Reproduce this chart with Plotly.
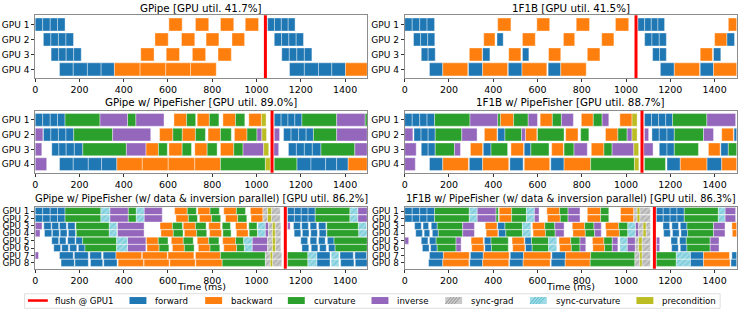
import plotly.graph_objects as go

W, H = 747, 312
FONT = "DejaVu Sans"

KIND_ORDER = ["F", "B", "C", "I", "SG", "SC", "P"]
KIND_NAMES = {"F": "forward", "B": "backward", "C": "curvature", "I": "inverse",
              "SG": "sync-grad", "SC": "sync-curvature", "P": "precondition"}
FILL = {"F": "#1f77b4", "B": "#ff7f0e", "C": "#2ca02c", "I": "#9467bd",
        "SG": "#c9c9c9", "SC": "#9edae5", "P": "#bcbd22"}
HATCH_FG = {"SG": "#8c8c8c", "SC": "#46b8c8"}

TITLES = [
    "GPipe [GPU util. 41.7%]",
    "1F1B [GPU util. 41.5%]",
    "GPipe w/ PipeFisher [GPU util. 89.0%]",
    "1F1B w/ PipeFisher [GPU util. 88.7%]",
    "GPipe w/ PipeFisher (w/ data & inversion parallel) [GPU util. 86.2%]",
    "1F1B w/ PipeFisher (w/ data & inversion parallel) [GPU util. 86.3%]",
]
FLUSH_MS = [1040, 1045, 1070, 1072, 1130, 1128]
X_TICKS = [0, 200, 400, 600, 800, 1000, 1200, 1400]
X_MAX = 1500

# Each tuple: (kind, t0, t1, t2, ...) -> consecutive blocks [t0,t1], [t1,t2], ...
GPIPE = [
    [("F", 0, 34, 68, 101, 135), ("B", 604, 664), ("B", 724, 784), ("B", 837, 897), ("B", 949, 1009),
     ("F", 1050, 1081, 1112, 1143, 1174)],
    [("F", 37, 71, 105, 139, 173), ("B", 541, 601), ("B", 661, 721), ("B", 772, 830), ("B", 889, 946),
     ("F", 1080, 1113, 1146, 1179, 1212)],
    [("F", 72, 106, 140, 174, 208), ("B", 477, 537), ("B", 592, 652), ("B", 710, 770), ("B", 826, 886),
     ("F", 1114, 1148, 1182, 1216, 1250)],
    [("F", 110, 172, 236, 298, 358), ("B", 358, 474, 590, 702, 818),
     ("F", 1149, 1216, 1280, 1340, 1402), ("B", 1402, 1500)],
]

ONEF1B = [
    [("F", 0, 34, 68, 101, 135), ("B", 420, 480), ("B", 597, 655), ("B", 775, 835), ("B", 952, 1012),
     ("F", 1054, 1084, 1114, 1144, 1174), ("B", 1462, 1500)],
    [("F", 40, 72, 104, 136), ("B", 357, 408), ("F", 417, 445), ("B", 532, 590), ("B", 717, 768),
     ("B", 890, 945), ("F", 1084, 1117, 1150, 1182), ("B", 1400, 1455), ("F", 1455, 1490)],
    [("F", 75, 106, 138), ("B", 292, 350), ("F", 352, 385), ("B", 470, 525), ("F", 532, 561),
     ("B", 650, 705), ("B", 825, 882), ("F", 1120, 1151, 1182), ("B", 1335, 1390), ("F", 1395, 1428)],
    [("F", 112, 172), ("B", 172, 285), ("F", 288, 352), ("B", 352, 465), ("F", 468, 530), ("B", 530, 642),
     ("F", 648, 705), ("B", 705, 820), ("F", 1155, 1218), ("B", 1218, 1332), ("F", 1335, 1395),
     ("B", 1395, 1500)],
]

GPIPE_PF = [
    [("F", 0, 34, 68, 101, 135), ("C", 135, 293), ("I", 293, 417), ("C", 417, 455), ("I", 455, 582),
     ("B", 627, 684), ("C", 684, 725), ("B", 732, 787), ("C", 787, 830), ("B", 848, 905), ("C", 905, 947),
     ("B", 965, 1022), ("P", 1022, 1043),
     ("F", 1080, 1111, 1142, 1173, 1205), ("C", 1205, 1362), ("I", 1362, 1490), ("C", 1490, 1500)],
    [("I", 0, 35), ("F", 37, 71, 105, 139, 174), ("C", 174, 350), ("I", 350, 522),
     ("B", 562, 622), ("C", 622, 664), ("B", 664, 724), ("C", 724, 769), ("B", 781, 837), ("C", 837, 886),
     ("B", 900, 957), ("C", 957, 1002), ("I", 1002, 1024), ("P", 1024, 1045),
     ("I", 1080, 1104), ("F", 1122, 1156, 1190, 1224, 1257), ("C", 1257, 1362), ("I", 1362, 1500)],
    [("I", 0, 30), ("F", 75, 107, 140, 177, 215), ("C", 215, 412), ("I", 412, 500),
     ("B", 500, 557), ("C", 557, 597), ("B", 604, 664), ("C", 664, 706), ("B", 721, 777), ("C", 777, 822),
     ("B", 837, 897), ("C", 897, 939), ("I", 939, 1032), ("P", 1032, 1055),
     ("I", 1078, 1100), ("F", 1144, 1180, 1216, 1252, 1291), ("C", 1291, 1444), ("I", 1444, 1500)],
    [("I", 0, 52), ("F", 110, 172, 240, 300, 369), ("B", 369, 484, 601, 721, 837), ("C", 837, 1040),
     ("P", 1040, 1062),
     ("C", 1080, 1182), ("F", 1182, 1246, 1312, 1362, 1414), ("B", 1414, 1500)],
]

ONEF1B_PF = [
    [("F", 0, 34, 68, 101, 135), ("C", 135, 295), ("I", 295, 420), ("C", 420, 432), ("B", 432, 492),
     ("C", 492, 558), ("I", 558, 600), ("B", 612, 667), ("C", 667, 708), ("I", 708, 762), ("B", 798, 852),
     ("C", 852, 892), ("I", 892, 922), ("B", 972, 1027), ("P", 1027, 1050),
     ("F", 1083, 1115, 1147, 1179, 1210), ("C", 1210, 1365), ("I", 1365, 1495)],
    [("I", 0, 37), ("F", 42, 74, 106, 138), ("C", 138, 258), ("I", 258, 327), ("B", 360, 417),
     ("F", 420, 453), ("C", 453, 528), ("I", 528, 545), ("B", 545, 597), ("C", 600, 720), ("B", 727, 783),
     ("C", 795, 832), ("B", 907, 963), ("C", 963, 1005), ("I", 1005, 1027), ("P", 1027, 1050),
     ("I", 1083, 1102), ("F", 1117, 1150, 1185, 1218), ("C", 1218, 1350), ("I", 1350, 1395),
     ("B", 1432, 1485), ("F", 1488, 1500)],
    [("I", 0, 52), ("F", 75, 106, 138), ("C", 138, 225), ("I", 225, 252), ("B", 297, 352), ("F", 355, 390),
     ("C", 390, 465), ("B", 480, 537), ("F", 540, 570), ("C", 570, 652), ("B", 664, 717), ("C", 720, 765),
     ("I", 765, 825), ("B", 843, 900), ("C", 900, 937), ("I", 937, 1035), ("P", 1035, 1057),
     ("I", 1080, 1122), ("F", 1150, 1185, 1218), ("C", 1218, 1327), ("B", 1372, 1425), ("F", 1428, 1462),
     ("C", 1462, 1500)],
    [("I", 0, 48), ("F", 112, 172), ("B", 172, 288), ("F", 292, 352), ("B", 352, 470), ("F", 475, 535),
     ("B", 540, 655), ("F", 660, 720), ("B", 720, 840), ("C", 840, 1038), ("P", 1038, 1058),
     ("C", 1083, 1178), ("F", 1185, 1245), ("B", 1245, 1365), ("F", 1365, 1432), ("B", 1432, 1500)],
]

GPIPE_PF_DP = [
    [("F", 0, 34, 68, 101, 135), ("C", 135, 297), ("SC", 297, 337), ("I", 337, 420), ("C", 420, 457),
     ("SC", 457, 492), ("I", 492, 574), ("B", 630, 687), ("C", 687, 728), ("B", 735, 790), ("C", 790, 832),
     ("B", 852, 909), ("C", 909, 950), ("B", 972, 1029), ("SG", 1029, 1050), ("P", 1050, 1067),
     ("SG", 1067, 1107),
     ("F", 1140, 1171, 1202, 1233, 1265), ("C", 1265, 1422), ("SC", 1422, 1457), ("I", 1457, 1500)],
    [("F", 0, 34, 68, 101, 135), ("C", 135, 297), ("SC", 297, 337), ("I", 337, 420), ("C", 420, 457),
     ("SC", 457, 492), ("I", 492, 574), ("B", 636, 692), ("C", 692, 733), ("B", 742, 797), ("C", 797, 838),
     ("B", 860, 915), ("C", 915, 956), ("B", 975, 1029), ("SG", 1029, 1050), ("P", 1050, 1067),
     ("SG", 1067, 1107),
     ("F", 1140, 1171, 1202, 1233, 1265), ("C", 1265, 1422), ("SC", 1422, 1457), ("I", 1457, 1500)],
    [("I", 0, 31), ("F", 39, 72), ("F", 75, 106), ("F", 110, 141), ("F", 147, 180), ("C", 184, 335),
     ("SC", 335, 369), ("I", 372, 492), ("B", 564, 620), ("C", 620, 665), ("B", 669, 724), ("C", 724, 772),
     ("B", 784, 837), ("C", 845, 882), ("B", 905, 957), ("C", 965, 1002), ("SC", 1006, 1039),
     ("I", 1039, 1054), ("SG", 1054, 1072), ("P", 1072, 1084), ("SG", 1084, 1110),
     ("I", 1140, 1152), ("F", 1167, 1198), ("F", 1204, 1234), ("F", 1242, 1272), ("F", 1280, 1313),
     ("C", 1317, 1460), ("SC", 1460, 1497)],
    [("I", 0, 22), ("F", 42, 75), ("F", 78, 109), ("F", 113, 144), ("F", 150, 182), ("C", 186, 335),
     ("SC", 335, 369), ("I", 372, 492), ("B", 568, 624), ("C", 624, 668), ("B", 674, 729), ("C", 729, 775),
     ("B", 788, 842), ("C", 848, 885), ("B", 909, 962), ("C", 967, 1004), ("SC", 1006, 1039),
     ("I", 1039, 1054), ("SG", 1054, 1072), ("P", 1072, 1084), ("SG", 1084, 1110),
     ("F", 1170, 1200), ("F", 1207, 1237), ("F", 1245, 1275), ("F", 1283, 1315), ("C", 1318, 1462),
     ("SC", 1462, 1500)],
    [("F", 75, 106), ("F", 110, 139), ("F", 147, 180), ("F", 184, 214), ("C", 214, 368), ("SC", 368, 417),
     ("I", 417, 500), ("B", 502, 556), ("C", 556, 600), ("B", 615, 669), ("C", 669, 714), ("B", 732, 784),
     ("C", 784, 830), ("B", 847, 905), ("C", 905, 942), ("SC", 942, 980), ("I", 980, 1050),
     ("SG", 1050, 1072), ("P", 1072, 1085), ("SG", 1085, 1110),
     ("F", 1200, 1231), ("F", 1242, 1272), ("F", 1280, 1310), ("F", 1320, 1350), ("C", 1350, 1500)],
    [("F", 84, 115), ("F", 120, 150), ("F", 156, 188), ("F", 195, 225), ("C", 225, 368), ("SC", 368, 417),
     ("I", 417, 500), ("B", 505, 560), ("C", 560, 604), ("B", 620, 674), ("C", 674, 718), ("B", 737, 790),
     ("C", 790, 834), ("B", 852, 910), ("C", 910, 945), ("SC", 945, 980), ("I", 980, 1050),
     ("SG", 1050, 1072), ("P", 1072, 1085), ("SG", 1085, 1110),
     ("F", 1205, 1236), ("F", 1247, 1277), ("F", 1285, 1315), ("F", 1325, 1355), ("C", 1355, 1500)],
    [("I", 0, 15), ("F", 110, 172), ("F", 177, 240), ("F", 247, 300), ("F", 307, 365),
     ("B", 365, 481), ("B", 484, 597), ("B", 600, 717), ("B", 724, 837), ("C", 837, 1040),
     ("SG", 1040, 1062), ("P", 1062, 1072), ("SG", 1072, 1114),
     ("C", 1140, 1232), ("SC", 1232, 1272), ("F", 1272, 1332), ("SC", 1337, 1372), ("F", 1377, 1437),
     ("F", 1444, 1497)],
    [("F", 117, 177), ("F", 180, 240), ("F", 250, 305), ("F", 310, 370),
     ("B", 375, 490), ("B", 492, 605), ("B", 608, 723), ("B", 726, 845), ("C", 845, 1040),
     ("SG", 1040, 1062), ("P", 1062, 1072), ("SG", 1072, 1114),
     ("C", 1140, 1232), ("SC", 1232, 1272), ("F", 1272, 1332), ("SC", 1337, 1372), ("F", 1380, 1440),
     ("F", 1446, 1500)],
]

ONEF1B_PF_DP = [
    [("F", 0, 34, 68, 101, 135), ("C", 135, 292), ("SC", 292, 327), ("I", 327, 412), ("C", 412, 423),
     ("B", 427, 483), ("C", 483, 550), ("SC", 550, 585), ("I", 585, 607), ("B", 642, 700), ("C", 700, 738),
     ("I", 738, 792), ("B", 825, 885), ("C", 885, 922), ("B", 975, 1035), ("SG", 1035, 1050),
     ("P", 1050, 1062), ("SG", 1062, 1110),
     ("F", 1137, 1168, 1199, 1230, 1263), ("C", 1263, 1417), ("SC", 1417, 1447), ("I", 1447, 1495)],
    [("F", 0, 34, 68, 101, 135), ("C", 135, 292), ("SC", 292, 327), ("I", 327, 412), ("C", 412, 423),
     ("B", 427, 483), ("C", 483, 550), ("SC", 550, 585), ("I", 585, 607), ("B", 645, 703), ("C", 703, 738),
     ("I", 738, 792), ("B", 825, 885), ("C", 885, 922), ("B", 975, 1035), ("SG", 1035, 1050),
     ("P", 1050, 1062), ("SG", 1062, 1110),
     ("F", 1137, 1168, 1199, 1230, 1263), ("C", 1263, 1417), ("SC", 1417, 1447), ("I", 1447, 1495)],
    [("F", 45, 75), ("F", 83, 108), ("F", 120, 147), ("C", 147, 262), ("I", 262, 315), ("B", 364, 417),
     ("F", 420, 453), ("C", 453, 532), ("SC", 532, 570), ("B", 577, 633), ("C", 633, 678), ("I", 678, 720),
     ("B", 757, 813), ("C", 813, 855), ("I", 855, 888), ("B", 907, 967), ("C", 967, 1008),
     ("SC", 1008, 1042), ("I", 1042, 1057), ("SG", 1057, 1077), ("P", 1077, 1090), ("SG", 1090, 1110),
     ("F", 1167, 1197), ("F", 1207, 1237), ("F", 1245, 1275), ("C", 1275, 1395), ("I", 1395, 1447),
     ("B", 1478, 1500)],
    [("F", 50, 80), ("F", 88, 113), ("F", 125, 152), ("C", 152, 262), ("I", 262, 315), ("B", 368, 421),
     ("F", 424, 457), ("C", 457, 532), ("SC", 532, 570), ("B", 580, 636), ("C", 636, 680), ("I", 680, 720),
     ("B", 760, 816), ("C", 816, 858), ("I", 858, 888), ("B", 910, 970), ("C", 970, 1008),
     ("SC", 1008, 1042), ("I", 1042, 1057), ("SG", 1057, 1077), ("P", 1077, 1090), ("SG", 1090, 1110),
     ("F", 1170, 1200), ("F", 1210, 1240), ("F", 1248, 1278), ("C", 1278, 1395), ("I", 1395, 1447),
     ("B", 1480, 1500)],
    [("I", 0, 18), ("F", 75, 105), ("F", 112, 142), ("C", 142, 232), ("I", 232, 255), ("B", 300, 355),
     ("F", 360, 390), ("C", 390, 468), ("B", 485, 540), ("F", 543, 573), ("C", 573, 650), ("SC", 650, 687),
     ("B", 697, 750), ("C", 750, 792), ("I", 792, 818), ("B", 848, 900), ("C", 900, 938), ("I", 938, 963),
     ("SC", 972, 1005), ("I", 1005, 1042), ("SG", 1042, 1057), ("P", 1057, 1072), ("SG", 1072, 1110),
     ("I", 1137, 1152), ("F", 1203, 1233), ("F", 1242, 1272), ("C", 1272, 1380), ("I", 1380, 1420)],
    [("F", 80, 110), ("F", 117, 147), ("C", 147, 232), ("I", 232, 255), ("B", 303, 358), ("F", 362, 392),
     ("C", 392, 468), ("B", 488, 543), ("F", 546, 576), ("C", 576, 650), ("SC", 650, 687), ("B", 700, 753),
     ("C", 753, 792), ("I", 792, 818), ("B", 850, 903), ("C", 903, 938), ("I", 938, 963),
     ("SC", 972, 1005), ("I", 1005, 1042), ("SG", 1042, 1057), ("P", 1057, 1072), ("SG", 1072, 1110),
     ("I", 1137, 1152), ("F", 1206, 1236), ("F", 1245, 1275), ("C", 1275, 1380), ("I", 1380, 1420)],
    [("F", 112, 175), ("B", 175, 292), ("F", 297, 355), ("B", 355, 472), ("F", 477, 537), ("B", 537, 660),
     ("F", 665, 727), ("B", 727, 840), ("C", 840, 1040), ("SG", 1040, 1062), ("P", 1062, 1072),
     ("SG", 1072, 1110),
     ("C", 1137, 1227), ("SC", 1227, 1290), ("F", 1290, 1350), ("B", 1350, 1467), ("F", 1478, 1500)],
    [("F", 108, 172), ("B", 172, 290), ("F", 294, 352), ("B", 352, 470), ("F", 474, 535), ("B", 535, 657),
     ("F", 662, 725), ("B", 725, 838), ("C", 838, 1040), ("SG", 1040, 1062), ("P", 1062, 1072),
     ("SG", 1072, 1110),
     ("C", 1137, 1227), ("SC", 1227, 1290), ("F", 1290, 1350), ("B", 1350, 1470), ("F", 1474, 1500)],
]

PANELS = [GPIPE, ONEF1B, GPIPE_PF, ONEF1B_PF, GPIPE_PF_DP, ONEF1B_PF_DP]

# ---------------- layout geometry (pixels) ----------------
COL_X = [(32.3, 365.7), (403.3, 736.7)]
ROW_Y = [(14.3, 77.3), (110.0, 172.3), (206.7, 268.5)]
TITLE_Y = [6.7, 101.7, 198.3]
TITLE_SIZE = [10.3, 10.3, 9.95]


def px(x):
    return x / W


def py(y):
    return 1 - y / H


fig = go.Figure()
layout = dict(
    width=W, height=H, margin=dict(l=0, r=0, t=0, b=0, pad=0),
    paper_bgcolor="white", plot_bgcolor="white",
    barmode="overlay", showlegend=False,
    font=dict(family=FONT, size=9, color="black"),
)
annotations = []
shapes = []

for p, data in enumerate(PANELS):
    r, c = divmod(p, 2)
    n = len(data)
    ax = "" if p == 0 else str(p + 1)
    bw = 0.87 if n == 4 else 0.95
    groups = {k: ([], [], []) for k in KIND_ORDER}
    for gi, row in enumerate(data):
        for seg in row:
            kind, bounds = seg[0], seg[1:]
            for a, b in zip(bounds[:-1], bounds[1:]):
                groups[kind][0].append(gi + 1)
                groups[kind][1].append(a)
                groups[kind][2].append(b - a)
    for k in KIND_ORDER:
        ys, starts, durs = groups[k]
        if not ys:
            continue
        marker = dict(color=FILL[k], line=dict(color="rgba(255,255,255,0.55)", width=0.7))
        if k in HATCH_FG:
            marker["pattern"] = dict(shape="/", fgcolor=HATCH_FG[k], size=4, solidity=0.3,
                                     fillmode="overlay")
        fig.add_trace(go.Bar(orientation="h", y=ys, x=durs, base=starts, width=bw,
                             marker=marker, name=KIND_NAMES[k], hoverinfo="skip",
                             xaxis="x" + ax, yaxis="y" + ax, showlegend=False))

    x0, x1 = COL_X[c]
    y0, y1 = ROW_Y[r]
    yr = [4.58, 0.38] if n == 4 else [8.78, 0.45]
    layout["xaxis" + ax] = dict(
        domain=[px(x0), px(x1)], anchor="y" + ax, range=[0, X_MAX],
        tickvals=X_TICKS, ticks="outside", ticklen=3, tickwidth=0.8, tickcolor="#333",
        tickfont=dict(size=9.5), showgrid=False, zeroline=False,
        showline=True, mirror=True, linecolor="#8c8c8c", linewidth=1)
    layout["yaxis" + ax] = dict(
        domain=[py(y1), py(y0)], anchor="x" + ax, range=yr,
        tickvals=list(range(1, n + 1)), ticktext=["GPU %d" % (i + 1) for i in range(n)],
        ticks="outside", ticklen=3, tickwidth=0.8, tickcolor="#333",
        tickfont=dict(size=9 if n == 4 else 8.8), showgrid=False, zeroline=False,
        showline=True, mirror=True, linecolor="#8c8c8c", linewidth=1)
    shapes.append(dict(type="line", xref="x" + ax, yref="y" + ax + " domain",
                       x0=FLUSH_MS[p], x1=FLUSH_MS[p], y0=0, y1=1,
                       line=dict(color="red", width=3), layer="above"))
    annotations.append(dict(text=TITLES[p], x=px((x0 + x1) / 2), y=py(TITLE_Y[r]),
                            xref="paper", yref="paper", showarrow=False,
                            xanchor="center", yanchor="middle",
                            font=dict(size=TITLE_SIZE[r], family=FONT)))
    if r == 2:
        annotations.append(dict(text="Time (ms)", x=px((x0 + x1) / 2), y=py(286.5),
                                xref="paper", yref="paper", showarrow=False,
                                xanchor="center", yanchor="middle",
                                font=dict(size=9.5, family=FONT)))

# ---------------- manual legend ----------------
LEG_Y = 300.5
SW = 17
shapes.append(dict(type="rect", xref="paper", yref="paper",
                   x0=px(21.7), x1=px(720), y0=py(308.3), y1=py(293.7),
                   line=dict(color="#d5d5d5", width=0.8), fillcolor="white"))
LEGEND_ITEMS = [("flush", "flush @ GPU1", 25), ("F", "forward", 127), ("B", "backward", 203),
                ("C", "curvature", 286), ("I", "inverse", 370), ("SG", "sync-grad", 444),
                ("SC", "sync-curvature", 529), ("P", "precondition", 636)]
for key, label, sx in LEGEND_ITEMS:
    if key == "flush":
        shapes.append(dict(type="line", xref="paper", yref="paper",
                           x0=px(sx), x1=px(sx + 20), y0=py(LEG_Y), y1=py(LEG_Y),
                           line=dict(color="red", width=2.5)))
        tx = sx + 25
    else:
        shapes.append(dict(type="rect", xref="paper", yref="paper",
                           x0=px(sx), x1=px(sx + SW), y0=py(LEG_Y + 3.5), y1=py(LEG_Y - 3.5),
                           line=dict(width=0), fillcolor=FILL[key]))
        if key in HATCH_FG:
            path = ""
            for k in range(0, 11, 3):
                path += "M %f,%f L %f,%f " % (px(sx + k), py(LEG_Y + 3.5),
                                               px(sx + k + 6), py(LEG_Y - 3.5))
            shapes.append(dict(type="path", xref="paper", yref="paper", path=path,
                               line=dict(color=HATCH_FG[key], width=0.8)))
        tx = sx + SW + 7
    annotations.append(dict(text=label, x=px(tx), y=py(LEG_Y), xref="paper", yref="paper",
                            showarrow=False, xanchor="left", yanchor="middle",
                            font=dict(size=8.6, family=FONT)))

layout["shapes"] = shapes
layout["annotations"] = annotations
fig.update_layout(**layout)
fig.write_html("out.html", config={"displayModeBar": False},
               post_script="document.body.style.margin='0';document.body.style.padding='0';"
                           "document.body.style.overflow='hidden';")
